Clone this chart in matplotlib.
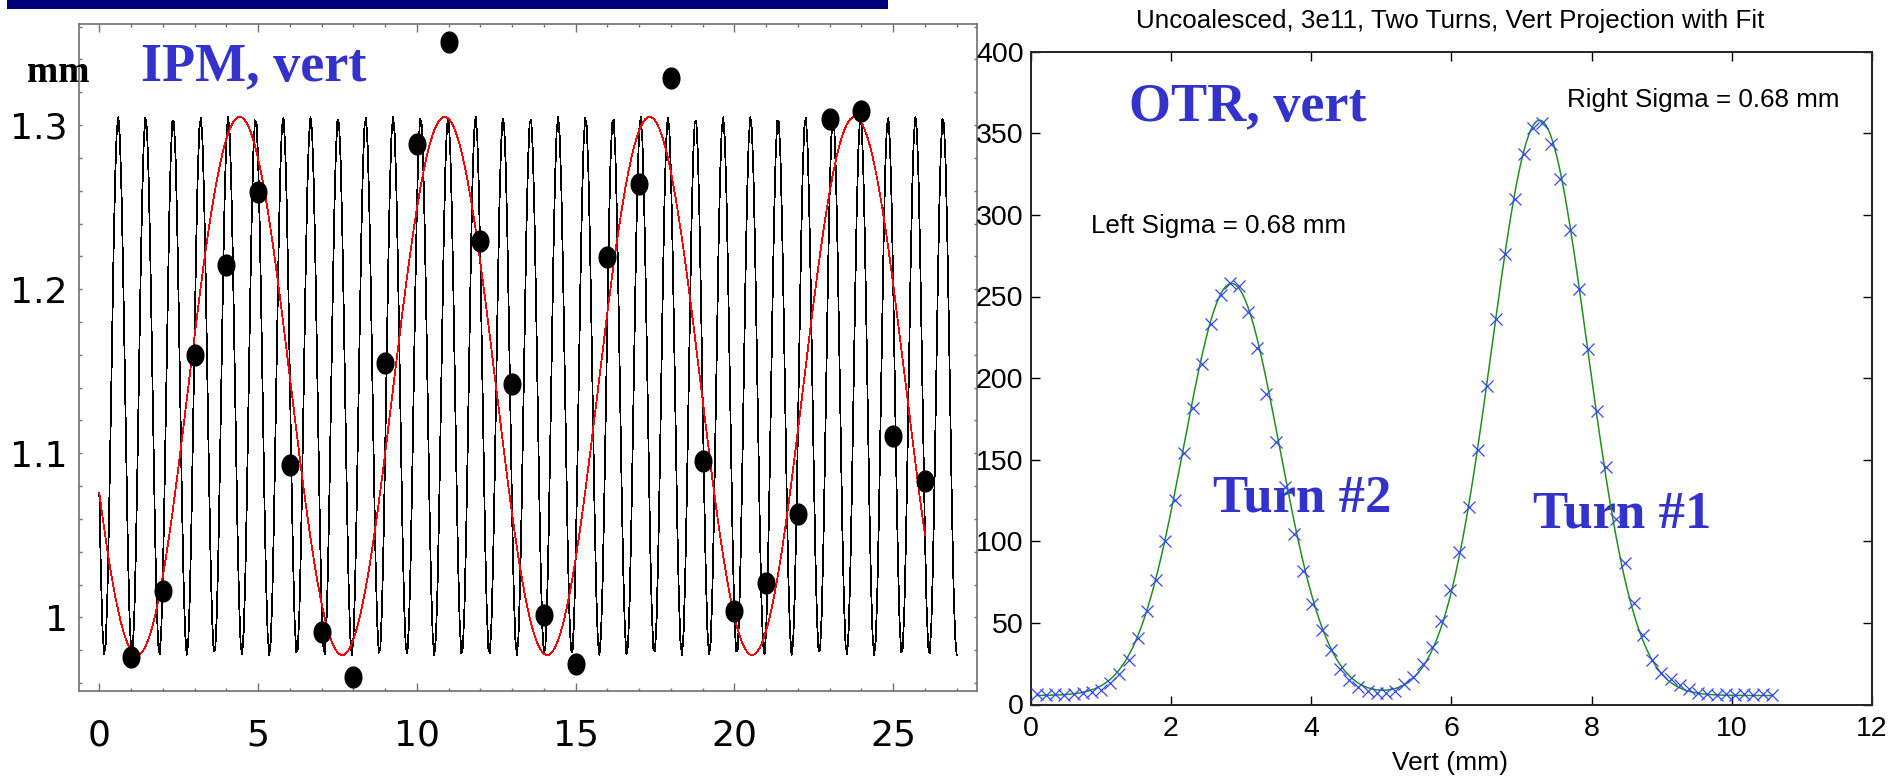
import numpy as np
import matplotlib
matplotlib.use("Agg")
import matplotlib.pyplot as plt
from matplotlib.path import Path
from matplotlib.patches import Rectangle
from matplotlib.ticker import MultipleLocator, FixedLocator, FuncFormatter

W, H, DPI = 1904, 777, 100

# ---------------- IPM turn-by-turn data ----------------
ipm_turn = [1, 2, 3, 4, 5, 6, 7, 8, 9, 10, 11, 12, 13,
            14, 15, 16, 17, 18, 19, 20, 21, 22, 23, 24, 25, 26]
ipm_pos_mm = [0.9761, 1.0161, 1.1597, 1.2145, 1.2589, 1.0928, 0.9913, 0.9639,
              1.1548, 1.2886, 1.3509, 1.2293, 1.1422, 1.0012, 0.9714, 1.2196,
              1.2642, 1.3285, 1.0952, 1.0037, 1.0211, 1.0631, 1.3037, 1.3088,
              1.1107, 1.0829]

# sinusoidal fit of the turn-by-turn motion
ipm_offset = 1.141
ipm_amp = 0.164
ipm_frac_tune = 0.15492
ipm_phase_turns = 0.6847
ipm_full_tune = 1.0 + ipm_frac_tune

# ---------------- OTR vertical projection ----------------
otr_vert_mm = [0.090, 0.221, 0.352, 0.483, 0.614, 0.745, 0.876, 1.007, 1.138, 1.269,
               1.400, 1.531, 1.662, 1.793, 1.924, 2.055, 2.186, 2.317, 2.448, 2.579,
               2.710, 2.841, 2.972, 3.103, 3.234, 3.365, 3.496, 3.627, 3.758, 3.889,
               4.020, 4.151, 4.282, 4.413, 4.544, 4.675, 4.806, 4.937, 5.068, 5.199,
               5.330, 5.461, 5.592, 5.723, 5.854, 5.985, 6.116, 6.247, 6.378, 6.509,
               6.640, 6.771, 6.902, 7.033, 7.164, 7.295, 7.426, 7.557, 7.688, 7.819,
               7.950, 8.081, 8.212, 8.343, 8.474, 8.605, 8.736, 8.867, 8.998, 9.129,
               9.260, 9.391, 9.522, 9.653, 9.784, 9.915, 10.046, 10.177, 10.308, 10.439,
               10.570]
otr_counts = [6.3, 6.0, 6.3, 6.0, 6.5, 7.2, 7.8, 9.0, 13.0, 18.6,
              27.5, 40.8, 57.0, 76.5, 100.0, 125.6, 153.8, 181.5, 208.8, 233.2,
              251.0, 258.5, 256.2, 240.5, 218.2, 190.5, 160.8, 133.2, 104.7, 82.0,
              61.7, 45.8, 33.3, 21.7, 15.2, 11.0, 8.5, 7.0, 7.0, 8.5,
              12.5, 17.0, 25.0, 35.0, 51.0, 70.0, 93.2, 121.2, 155.7, 195.0,
              236.4, 276.3, 309.8, 337.2, 353.5, 356.4, 343.2, 321.7, 290.7, 254.8,
              217.8, 180.1, 145.3, 113.5, 86.5, 61.9, 42.5, 27.3, 19.5, 15.8,
              12.0, 9.6, 7.3, 6.3, 6.0, 6.3, 6.0, 6.3, 6.0, 6.3,
              6.0]

# double-gaussian fit
fit_base = 5.5
left_amp, left_center, left_sigma = 252.5, 2.867, 0.68
right_amp, right_center, right_sigma = 352.5, 7.26, 0.68

TXT_BLUE = "#3333cc"


def box(x0, y0, x1, y1):
    return [x0 / W, 1 - y1 / H, (x1 - x0) / W, (y1 - y0) / H]


def fx(px):
    return px / W


def fy(py):
    return 1 - py / H


fig = plt.figure(figsize=(W / DPI, H / DPI), dpi=DPI, facecolor="white")

# navy title bar over the left panel
fig.patches.append(Rectangle((fx(7), fy(8.5)), (888 - 7) / W, 8.5 / H,
                             transform=fig.transFigure, facecolor="#00007c",
                             edgecolor="none", zorder=5))

# ---------------- left panel: IPM ----------------
ax1 = fig.add_axes(box(79, 24.3, 976.7, 691))
t_fast = np.arange(0.0, 27.0 + 1e-9, 0.05)
t_slow = np.arange(0.0, 26.0 + 1e-9, 0.05)
fast = ipm_offset + ipm_amp * np.cos(2 * np.pi * (ipm_full_tune * t_fast - ipm_phase_turns))
slow = ipm_offset + ipm_amp * np.cos(2 * np.pi * (ipm_frac_tune * t_slow - ipm_phase_turns))
ax1.plot(t_fast, fast, color="black", lw=0.55, zorder=2, antialiased=False)
ax1.plot(t_slow, slow, color="red", lw=0.55, zorder=3, antialiased=False)

th = np.linspace(0, 2 * np.pi, 60)
ellipse = Path(np.column_stack([0.8 * np.cos(th), np.sin(th)]))
ax1.plot(ipm_turn, ipm_pos_mm, linestyle="none", marker=ellipse,
         markersize=15, color="black", zorder=4)

ax1.set_xlim(-0.64, 27.63)
ax1.set_ylim(0.9551, 1.3614)
ax1.xaxis.set_major_locator(MultipleLocator(5))
ax1.xaxis.set_minor_locator(MultipleLocator(1))
ax1.yaxis.set_major_locator(FixedLocator([1.0, 1.1, 1.2, 1.3]))
ax1.yaxis.set_minor_locator(MultipleLocator(0.02))
ax1.xaxis.set_major_formatter(FuncFormatter(lambda v, p: f"{v:g}"))
ax1.yaxis.set_major_formatter(FuncFormatter(lambda v, p: f"{v:g}"))
ax1.tick_params(which="both", direction="in", top=True, right=True,
                color="#707070", width=1.0)
ax1.tick_params(axis="x", which="major", length=6, pad=20)
ax1.tick_params(axis="x", which="minor", length=2.3)
ax1.tick_params(axis="y", which="both", length=2.3, pad=8)
for lab in ax1.get_xticklabels() + ax1.get_yticklabels():
    lab.set_fontfamily("DejaVu Sans")
    lab.set_fontsize(26)
    lab.set_fontweight("normal")
for sp in ax1.spines.values():
    sp.set_color("#707070")
    sp.set_linewidth(1.2)

fig.text(fx(27), fy(81.7), "mm", family="Liberation Serif", weight="bold",
         fontsize=27, color="black", va="baseline", ha="left")
fig.text(fx(141), fy(80), "IPM, vert", family="Liberation Serif", weight="bold",
         fontsize=39, color=TXT_BLUE, va="baseline", ha="left")

# ---------------- right panel: OTR ----------------
ax2 = fig.add_axes(box(1030.5, 51.7, 1872, 704.5))
xv = np.linspace(0.09, 10.57, 600)
fit = (fit_base
       + left_amp * np.exp(-(xv - left_center) ** 2 / (2 * left_sigma ** 2))
       + right_amp * np.exp(-(xv - right_center) ** 2 / (2 * right_sigma ** 2)))
ax2.plot(xv, fit, color="#1f8f1f", lw=1.1, zorder=2)
ax2.plot(otr_vert_mm, otr_counts, linestyle="none", marker="x", markersize=8.3,
         markeredgewidth=0.9, color="#3346ff", zorder=3)

ax2.set_xlim(0, 12)
ax2.set_ylim(0, 400)
ax2.xaxis.set_major_locator(MultipleLocator(2))
ax2.yaxis.set_major_locator(MultipleLocator(50))
ax2.tick_params(which="both", direction="in", top=True, right=True,
                length=6.5, width=1.0, color="black")
ax2.tick_params(axis="x", pad=8)
ax2.tick_params(axis="y", pad=5)
for lab in ax2.get_xticklabels() + ax2.get_yticklabels():
    lab.set_fontfamily("Liberation Sans")
    lab.set_fontsize(20.5)
for sp in ax2.spines.values():
    sp.set_color("#222222")
    sp.set_linewidth(1.4)

fig.text(fx(1450), fy(28.3), "Uncoalesced, 3e11, Two Turns, Vert Projection with Fit",
         family="Liberation Sans", fontsize=18.7, ha="center", va="baseline")
fig.text(fx(1449.5), fy(770), "Vert (mm)", family="Liberation Sans", fontsize=19,
         ha="center", va="baseline")
fig.text(fx(1091), fy(233), f"Left Sigma = {left_sigma:.2f} mm",
         family="Liberation Sans", fontsize=18.7, ha="left", va="baseline")
fig.text(fx(1567), fy(107), f"Right Sigma = {right_sigma:.2f} mm",
         family="Liberation Sans", fontsize=18.7, ha="left", va="baseline")

ax2.text(fx(1128.6), fy(120), "OTR, vert", transform=fig.transFigure,
         family="Liberation Serif", weight="bold", fontsize=39, color=TXT_BLUE,
         va="baseline", ha="left", zorder=1)
ax2.text(fx(1213), fy(512), "Turn #2", transform=fig.transFigure,
         family="Liberation Serif", weight="bold", fontsize=38, color=TXT_BLUE,
         va="baseline", ha="left", zorder=1)
ax2.text(fx(1533), fy(528), "Turn #1", transform=fig.transFigure,
         family="Liberation Serif", weight="bold", fontsize=38, color=TXT_BLUE,
         va="baseline", ha="left", zorder=1)

fig.savefig("out.png", dpi=DPI, facecolor="white")
